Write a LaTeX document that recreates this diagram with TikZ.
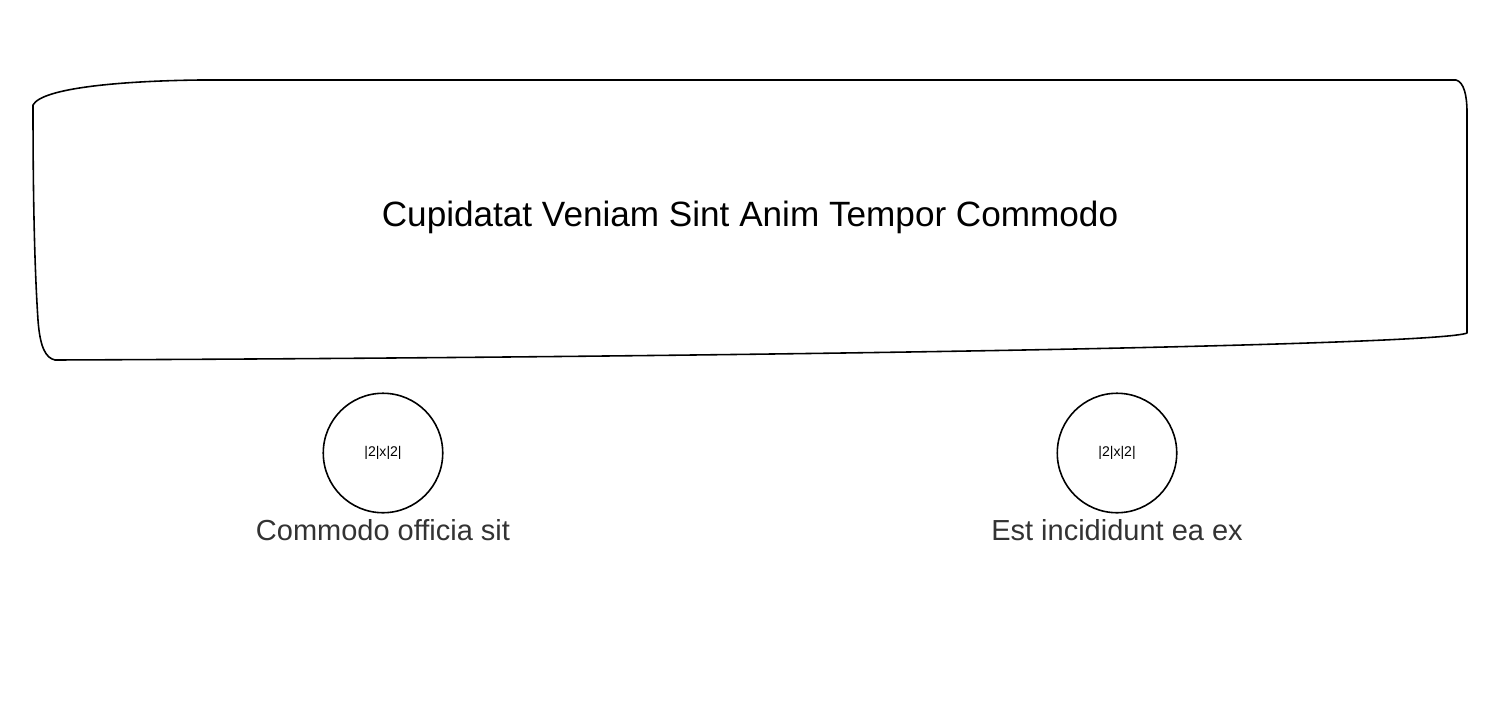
\documentclass[tikz,border=0pt]{standalone}
\usepackage{fontspec}
\setmainfont{Liberation Sans}
\usetikzlibrary{positioning}

\begin{document}
\begin{tikzpicture}[x=0.02cm,y=-0.02cm]
	\useasboundingbox (0,0) rectangle (1500,720);

	% the big box
	\draw [line width=0.9pt,line join=round]
		(33,105) .. controls (42,88) and (120,81) .. (200,80) -- (1456,80)
		.. controls (1464,82) and (1467,96) .. (1467,112) -- (1467,333)
		.. controls (1440,345) and (800,357) .. (55,360)
		.. controls (46,358) and (40,348) .. (38,320)
		.. controls (34,260) and (33,180) .. (33,105) -- cycle;
	\node (titel) at (750,217) {\fontsize{20}{24}\selectfont Cupidatat Veniam Sint Anim Tempor Commodo};

	\begin{scope}[every node/.style={circle,line width=0.9pt,draw,minimum size=68pt,inner sep=0pt,font=\fontsize{8}{9}\selectfont}]
		\node (links) at (383,453) {|2|x|2|};
		\node (rechts) at (1117,453) {|2|x|2|};
	\end{scope}

	\begin{scope}[every node/.style={text=black!80,inner sep=1pt,font=\fontsize{16.5}{19}\selectfont}]
		\node [below=2pt of links] (linksText) {Commodo officia sit};
		\node [below=2pt of rechts] (rechtsText) {Est incididunt ea ex};
	\end{scope}
\end{tikzpicture}
\end{document}
